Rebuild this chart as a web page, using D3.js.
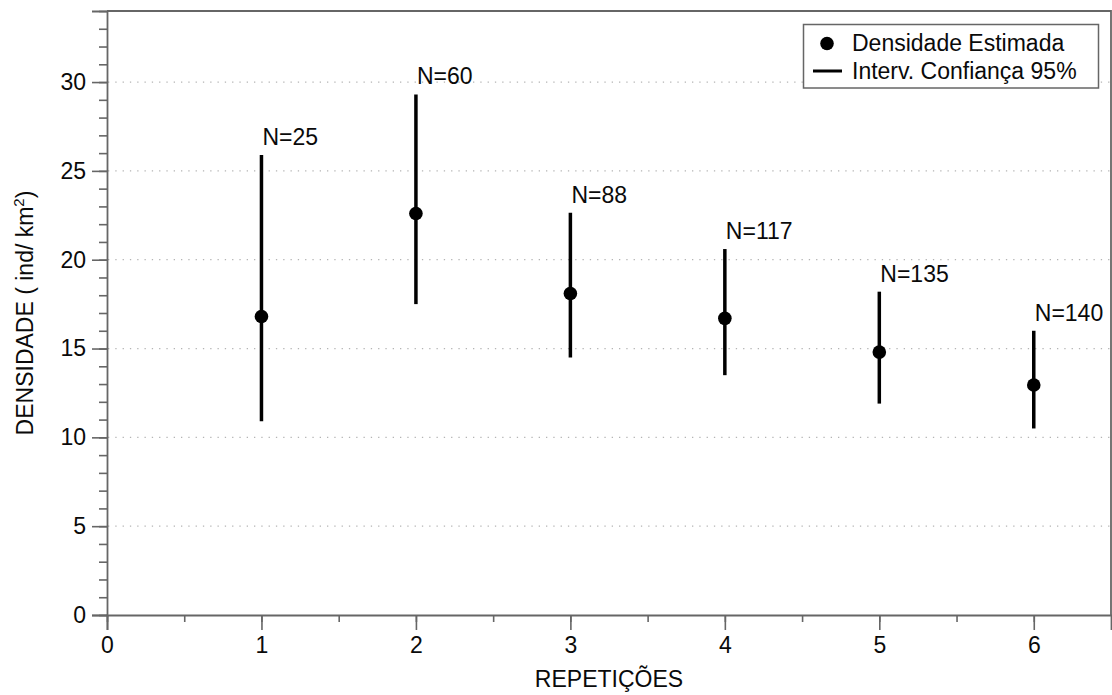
<!DOCTYPE html>
<html>
<head>
<meta charset="utf-8">
<script src="https://cdn.jsdelivr.net/npm/d3@7"></script>
<style>
  html, body { margin: 0; padding: 0; background: #fff; }
  svg { display: block; font-family: "Liberation Sans", Arial, Helvetica, sans-serif; }
</style>
</head>
<body>
<svg id="chart" width="1112" height="695"></svg>
<script>
// Estimated density per repetition with 95% confidence intervals
const repeticoes = [1, 2, 3, 4, 5, 6];
const densidade = [16.8, 22.6, 18.1, 16.7, 14.8, 12.95];
const icInferior = [10.9, 17.5, 14.5, 13.5, 11.9, 10.5];
const icSuperior = [25.9, 29.3, 22.65, 20.6, 18.2, 16.0];
const amostras = [25, 60, 88, 117, 135, 140];
const yTicks = [0, 5, 10, 15, 20, 25, 30];
const xTicks = [0, 1, 2, 3, 4, 5, 6];
const legendItems = ["Densidade Estimada", "Interv. Confiança 95%"];

const svg = d3.select("#chart");
const m = { left: 107, right: 1111, top: 11, bottom: 615 };
const axisColor = "#666";
const textColor = "#0a0a0a";
const fontSize = 23;

const x = d3.scaleLinear().domain([0, 6.5]).range([m.left, m.right]);
const y = d3.scaleLinear().domain([0, 34]).range([m.bottom, m.top]);

const data = repeticoes.map((r, i) => ({
  r, d: densidade[i], lo: icInferior[i], hi: icSuperior[i], n: amostras[i]
}));

// dotted horizontal grid
svg.append("g")
  .selectAll("line")
  .data(yTicks.filter(v => v > 0))
  .join("line")
  .attr("x1", m.left + 1).attr("x2", m.right)
  .attr("y1", d => y(d)).attr("y2", d => y(d))
  .attr("stroke", "#b4b4b4")
  .attr("stroke-width", 1.3)
  .attr("stroke-dasharray", "1.3 6");

// frame: top and right edges
svg.append("path")
  .attr("d", `M${m.left},${m.top}H${m.right}V${m.bottom}`)
  .attr("fill", "none")
  .attr("stroke", axisColor)
  .attr("stroke-width", 1.8);

// y axis: minor ticks every unit, labelled majors every 5
const yMinor = d3.axisLeft(y).tickValues(d3.range(0, 35, 1)).tickSize(8).tickFormat("");
const gYMinor = svg.append("g").attr("transform", `translate(${m.left},0)`).call(yMinor);
const yMajor = d3.axisLeft(y).tickValues(yTicks).tickSize(15).tickPadding(6).tickFormat(d3.format("d"));
const gY = svg.append("g").attr("transform", `translate(${m.left},0)`).call(yMajor);

// x axis: minor ticks every half unit, labelled majors every unit
const xMinor = d3.axisBottom(x).tickValues(d3.range(0, 6.5, 0.5)).tickSize(7).tickFormat("");
const gXMinor = svg.append("g").attr("transform", `translate(0,${m.bottom})`).call(xMinor);
const xMajor = d3.axisBottom(x).tickValues(xTicks).tickSize(15).tickPadding(7).tickFormat(d3.format("d"));
const gX = svg.append("g").attr("transform", `translate(0,${m.bottom})`).call(xMajor);

[gYMinor, gY, gXMinor, gX].forEach(g => {
  g.select(".domain").attr("stroke", axisColor).attr("stroke-width", 1.8);
  g.selectAll(".tick line").attr("stroke", axisColor).attr("stroke-width", 1.6);
  g.selectAll("text").attr("font-size", fontSize).attr("fill", textColor)
    .attr("font-family", "Liberation Sans, Arial, Helvetica, sans-serif");
});
gXMinor.select(".domain").remove();
gYMinor.select(".domain").remove();

// axis titles
svg.append("text")
  .attr("x", (m.left + m.right) / 2)
  .attr("y", 687)
  .attr("text-anchor", "middle")
  .attr("font-size", fontSize)
  .attr("fill", textColor)
  .text("REPETIÇÕES");

const yTitle = svg.append("text")
  .attr("transform", `translate(33,${(m.top + m.bottom) / 2}) rotate(-90)`)
  .attr("text-anchor", "middle")
  .attr("font-size", fontSize)
  .attr("fill", textColor);
yTitle.append("tspan").text("DENSIDADE ( ind/ km");
yTitle.append("tspan").attr("dy", -9).attr("font-size", 15).text("2");
yTitle.append("tspan").attr("dy", 9).text(")");

// confidence intervals
const marks = svg.append("g");
marks.selectAll("line.ci")
  .data(data)
  .join("line")
  .attr("class", "ci")
  .attr("x1", d => x(d.r)).attr("x2", d => x(d.r))
  .attr("y1", d => y(d.lo)).attr("y2", d => y(d.hi))
  .attr("stroke", "#000")
  .attr("stroke-width", 3.5);

// point estimates
marks.selectAll("circle")
  .data(data)
  .join("circle")
  .attr("cx", d => x(d.r))
  .attr("cy", d => y(d.d))
  .attr("r", 6.8)
  .attr("fill", "#000");

// sample size labels above each interval
marks.selectAll("text")
  .data(data)
  .join("text")
  .attr("x", d => x(d.r) + 1)
  .attr("y", d => y(d.hi) - 10)
  .attr("font-size", fontSize)
  .attr("fill", textColor)
  .text(d => `N=${d.n}`);

// legend
const lg = svg.append("g");
lg.append("rect")
  .attr("x", 803.5).attr("y", 24.5)
  .attr("width", 295).attr("height", 63.5)
  .attr("fill", "#fff")
  .attr("stroke", axisColor)
  .attr("stroke-width", 1.5);
lg.append("circle").attr("cx", 827).attr("cy", 43.5).attr("r", 6.8).attr("fill", "#000");
lg.append("line")
  .attr("x1", 813).attr("x2", 842)
  .attr("y1", 71).attr("y2", 71)
  .attr("stroke", "#000").attr("stroke-width", 3);
lg.selectAll("text")
  .data(legendItems)
  .join("text")
  .attr("x", 852)
  .attr("y", (d, i) => 51 + i * 28)
  .attr("font-size", fontSize)
  .attr("fill", textColor)
  .text(d => d);
</script>
</body>
</html>
